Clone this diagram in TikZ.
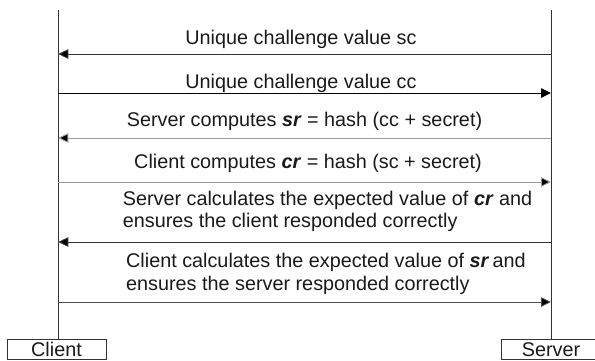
\documentclass[tikz,border=0pt]{standalone}
\usepackage{fontspec}
\setmainfont{Liberation Sans}
\usetikzlibrary{arrows.meta}
\definecolor{txt}{HTML}{1A1A1A}
\definecolor{dark}{HTML}{333333}
\definecolor{lightln}{HTML}{9A9A9A}
\begin{document}
\begin{tikzpicture}[x=1pt,y=-1pt,
  msg/.style={line width=0.9pt, draw=dark, -{Triangle[length=10pt,width=9.5pt,fill=black]}},
  lbl/.style={inner sep=0pt, text=txt, font=\fontsize{19.8}{22.5}\selectfont},
  actor/.style={draw=dark, line width=0.9pt, minimum width=99pt, text height=14.4pt,
    text depth=0pt, inner xsep=0pt, inner ysep=2.8pt, text=txt,
    font=\fontsize{19.8}{22.5}\selectfont, anchor=north},
  life/.style={draw=dark, line width=0.9pt}]
\clip (0,0) rectangle (595,360);
\fill[white] (0,0) rectangle (595,360);

% actors
\node[actor] (client) at (56.5,339) {Client};
\node[actor] (server) at (551,339) {Server};
\coordinate (ctop) at (58.3,10);
\coordinate (stop) at (551,10);
\draw[life] (ctop) -- (ctop |- client.north);
\draw[life] (stop) -- (server.north);

% message end points
\coordinate (c1) at (58.3,54);  \coordinate (s1) at (551,54);
\coordinate (c2) at (58.3,93);  \coordinate (s2) at (551,93);
\coordinate (c3) at (58.3,138); \coordinate (s3) at (551,138);
\coordinate (c4) at (58.3,182); \coordinate (s4) at (551,182);
\coordinate (c5) at (58.3,242); \coordinate (s5) at (551,242);
\coordinate (c6) at (58.3,302); \coordinate (s6) at (551,302);

\draw[msg] (s1) -- (c1);
\draw[msg, draw=black] (c2) -- (s2);
\draw[msg, draw=lightln] (s3) -- (c3);
\draw[msg, draw=lightln] (c4) -- (s4);
\draw[msg] (s5) -- (c5);
\draw[msg, draw=black!70] (c6) -- (s6);

% labels
\node[lbl, anchor=base] (m1) at (301,44) {Unique challenge value sc};
\node[lbl, anchor=base] (m2) at (301,88) {Unique challenge value cc};
\node[lbl, anchor=base] (m3) at (304.5,126) {Server computes \textbf{\textit{sr}} = hash (cc + secret)};
\node[lbl, anchor=base] (m4) at (308,168) {Client computes \textbf{\textit{cr}} = hash (sc + secret)};
\node[lbl, anchor=base west] (m5a) at (122.7,205) {Server calculates the expected value of \textbf{\textit{cr}} and};
\node[lbl, anchor=base west] (m5b) at (122.7,227) {ensures the client responded correctly};
\node[lbl, anchor=base west] (m6a) at (126,267) {Client calculates the expected value of \textbf{\textit{sr}}\,and};
\node[lbl, anchor=base west] (m6b) at (126,290) {ensures the server responded correctly};
\end{tikzpicture}
\end{document}
